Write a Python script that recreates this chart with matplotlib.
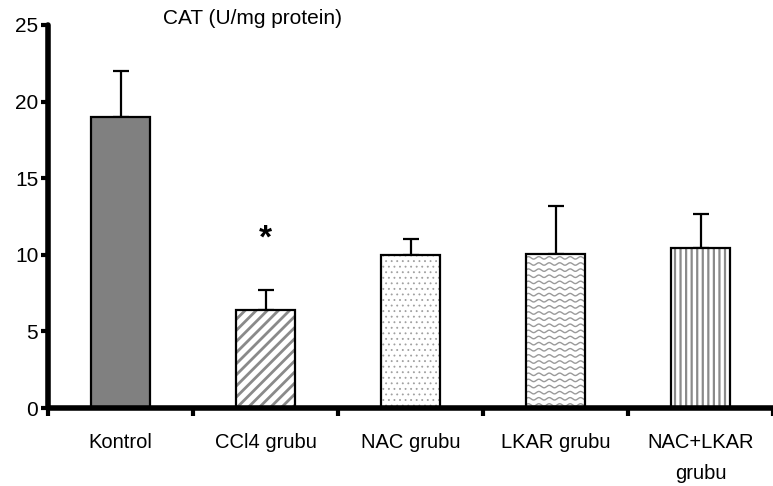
import matplotlib
matplotlib.use("Agg")
import matplotlib.pyplot as plt
import numpy as np

# CAT activity per group (mean, upper SD)
groups = ["Kontrol", "CCl4 grubu", "NAC grubu", "LKAR grubu", "NAC+LKAR\ngrubu"]
means = [19.0, 6.4, 10.0, 10.05, 10.45]
errs = [3.0, 1.3, 1.0, 3.15, 2.2]
sig_marks = ["", "*", "", "", ""]
yticks = [0, 5, 10, 15, 20, 25]

plt.rcParams["font.family"] = ["Liberation Sans", "DejaVu Sans"]

fig = plt.figure(figsize=(7.73, 4.86), dpi=100)
ax = fig.add_axes([48 / 773, 78 / 486, 1 - 48 / 773, (408 - 25) / 486])

x = np.arange(len(groups))
width = 0.41
gray = "#8c8c8c"

fills = ["#808080", "white", "white", "white", "white"]
hatches = [None, "///", "...", None, "|||"]
hatch_lw = [1.0, 2.0, 0.6, 1.0, 1.6]
hatch_col = [gray, "#8a8a8a", "#a0a0a0", gray, "#8a8a8a"]
bars = []
for xi, m, f, h, lw, hc in zip(x, means, fills, hatches, hatch_lw, hatch_col):
    with plt.rc_context({"hatch.linewidth": lw}):
        b = ax.bar(xi, m, width, color=f, edgecolor=hc, linewidth=0,
                   hatch=h, zorder=2)[0]
    if hasattr(b, "set_hatch_linewidth"):
        b.set_hatch_linewidth(lw)
    bars.append(b)

# wavy texture for the LKAR bar
wb = bars[3]
x0, w, h = wb.get_x(), wb.get_width(), wb.get_height()
xs = np.linspace(x0, x0 + w, 300)
for y0 in np.arange(0.2, h, 0.40):
    ys = y0 + 0.08 * np.sin(2 * np.pi * (xs - x0) / 0.072)
    ln, = ax.plot(xs, ys, color="#9a9a9a", lw=1.0, zorder=2.5)
    ln.set_clip_path(wb)

# outlines on top
ax.bar(x, means, width, fill=False, edgecolor="black", linewidth=1.6, zorder=3)

ax.errorbar(x, means, yerr=[np.zeros(len(errs)), errs], fmt="none",
            ecolor="black", elinewidth=1.6, capsize=5.5, capthick=1.6, zorder=1)

for xi, m, e, s in zip(x, means, errs, sig_marks):
    if s:
        ax.text(xi, m + e + 3.3, s, ha="center", va="center",
                fontsize=24, fontweight="bold")

ax.set_xlim(-0.5, -0.5 + 725 / 146)
ax.set_ylim(0, 25)
ax.set_yticks(yticks)
ax.tick_params(axis="y", labelsize=15, width=3, length=5, pad=2)

ax.set_xticks(x)
ax.set_xticklabels(groups, fontsize=14.5, linespacing=1.8)
ax.tick_params(axis="x", length=0, pad=18)
ax.set_xticks(np.arange(len(groups) + 1) - 0.5, minor=True)
ax.tick_params(axis="x", which="minor", length=6, width=3, direction="out")

for side in ("top", "right"):
    ax.spines[side].set_visible(False)
ax.spines["left"].set_linewidth(4)
ax.spines["bottom"].set_linewidth(4)
ax.spines["left"].set_capstyle("round")
ax.spines["bottom"].set_capstyle("round")

fig.text(163 / 773, 1 - 18 / 486, "CAT (U/mg protein)", fontsize=15,
         ha="left", va="center")

fig.savefig("out.png", dpi=100)
